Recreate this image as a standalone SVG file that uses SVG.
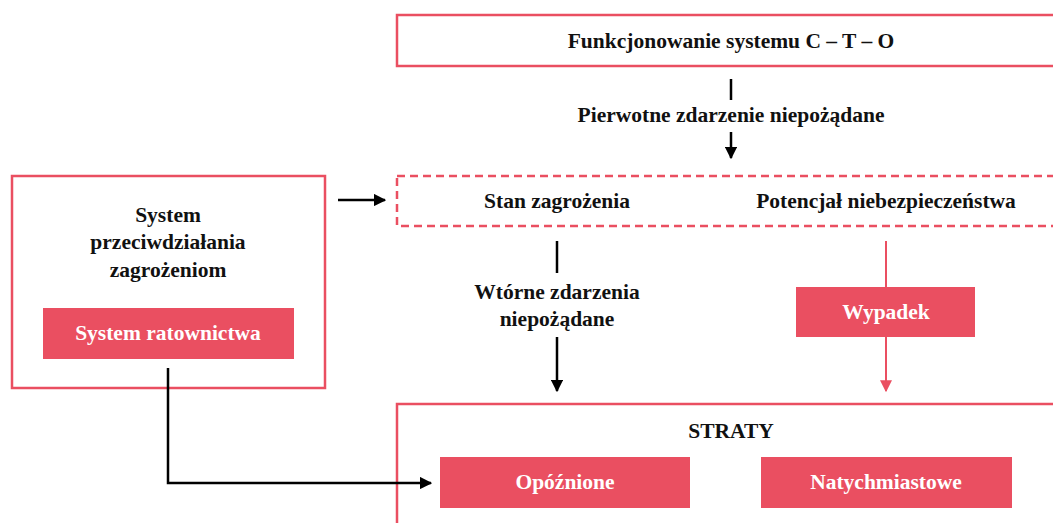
<svg xmlns="http://www.w3.org/2000/svg" width="1053" height="523" viewBox="0 0 1053 523">
<defs>
<marker id="ab" viewBox="0 0 10 10" refX="9" refY="5" markerWidth="5" markerHeight="5" markerUnits="strokeWidth" orient="auto"><path d="M0,0 L10,5 L0,10 z" fill="#000"/></marker>
<marker id="ar" viewBox="0 0 10 10" refX="9" refY="5" markerWidth="6" markerHeight="6" markerUnits="strokeWidth" orient="auto"><path d="M0,0 L10,5 L0,10 z" fill="#EA4F61"/></marker>
</defs>
<style>
.box{fill:#fff;stroke:#EA4F61;stroke-width:2.5}
.dash{fill:#fff;stroke:#EA4F61;stroke-width:2.5;stroke-dasharray:8 5}
.fill{fill:#EA4F61}
.t{font-family:"Liberation Serif",serif;font-weight:bold;font-size:21.5px;fill:#111;text-anchor:middle}
.w{fill:#fff}
.c{fill:none;stroke:#000;stroke-width:2.5}
.cr{fill:none;stroke:#EA4F61;stroke-width:2}
</style>
<rect width="1053" height="523" fill="#fff"/>
<g id="top"><rect class="box" x="397" y="15" width="670" height="51"/><text class="t" x="731" y="48">Funkcjonowanie systemu C – T – O</text></g>
<g id="pierwotne"><text class="t" x="731" y="122">Pierwotne zdarzenie niepożądane</text></g>
<g id="stan"><rect class="dash" x="397" y="176" width="670" height="50"/><text class="t" x="557" y="208">Stan zagrożenia</text><text class="t" x="886" y="208">Potencjał niebezpieczeństwa</text></g>
<g id="system"><rect class="box" x="12" y="176" width="313" height="212"/><text class="t" x="168" y="222">System</text><text class="t" x="168" y="249">przeciwdziałania</text><text class="t" x="168" y="277">zagrożeniom</text></g>
<g id="ratownictwa"><rect class="fill" x="43" y="308" width="251" height="51"/><text class="t w" x="168" y="340">System ratownictwa</text></g>
<g id="wtorne"><text class="t" x="557" y="299">Wtórne zdarzenia</text><text class="t" x="557" y="326">niepożądane</text></g>
<g id="wypadek"><rect class="fill" x="796" y="287" width="179" height="50"/><text class="t w" x="886" y="319">Wypadek</text></g>
<g id="straty"><rect class="box" x="397" y="404" width="670" height="130"/><text class="t" x="731" y="438">STRATY</text></g>
<g id="opoznione"><rect class="fill" x="440" y="457" width="250" height="51"/><text class="t w" x="565" y="489">Opóźnione</text></g>
<g id="natychmiastowe"><rect class="fill" x="761" y="457" width="251" height="51"/><text class="t w" x="886" y="489">Natychmiastowe</text></g>
<g id="connectors">
<line class="c" x1="731" y1="79" x2="731" y2="100"/>
<line class="c" x1="731" y1="132" x2="731" y2="158" marker-end="url(#ab)"/>
<line class="c" x1="338" y1="200" x2="385" y2="200" marker-end="url(#ab)"/>
<line class="c" x1="557" y1="241" x2="557" y2="273"/>
<line class="c" x1="557" y1="337" x2="557" y2="391" marker-end="url(#ab)"/>
<line class="cr" x1="886" y1="241" x2="886" y2="287"/>
<line class="cr" x1="886" y1="337" x2="886" y2="391" marker-end="url(#ar)"/>
<polyline class="c" points="168,368 168,483 431,483" marker-end="url(#ab)"/>
</g>
</svg>
